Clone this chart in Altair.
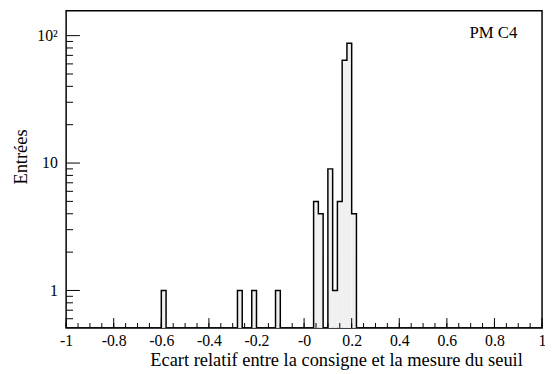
import altair as alt
import pandas as pd

# Histogram: 100 bins of width 0.02 between -1 and 1; the non-empty bins (lower edge, entries)
bin_lo = [-0.60, -0.28, -0.22, -0.12, 0.04, 0.06, 0.10, 0.12, 0.14, 0.16, 0.18, 0.20]
counts = [1, 1, 1, 1, 5, 4, 9, 1, 5, 64, 87, 4]
BIN_W = 0.02
N_BINS = 100
X_MIN, X_MAX = -1.0, 1.0
Y_MIN, Y_MAX = 0.508, 157.0

x_tick_values = [-1, -0.8, -0.6, -0.4, -0.2, 0, 0.2, 0.4, 0.6, 0.8, 1]
x_tick_labels = ["-1", "-0.8", "-0.6", "-0.4", "-0.2", "-0", "0.2", "0.4", "0.6", "0.8", "1"]
y_tick_values = [1, 10, 100]
y_tick_labels = ["1", "10", "10²"]
y_minor_values = [0.6, 0.7, 0.8, 0.9, 2, 3, 4, 5, 6, 7, 8, 9, 20, 30, 40, 50, 60, 70, 80, 90]
x_minor_values = [round(-1 + 0.05 * k, 2) for k in range(41)]

x_title = "Ecart relatif entre la consigne et la mesure du seuil"
y_title = "Entrées"
label_text = "PM C4"

W, H = 483, 322
FONT = "Liberation Serif"

# ---- data tables built from the lists ----
bars = pd.DataFrame({"lo": bin_lo, "hi": [round(v + BIN_W, 2) for v in bin_lo], "n": counts})
count_by_bin = {int(round((lo - X_MIN) / BIN_W)): c for lo, c in zip(bin_lo, counts)}
step_rows = []
for i in range(N_BINS):
    step_rows.append({"lo": round(X_MIN + i * BIN_W, 2), "n": count_by_bin.get(i, Y_MIN)})
step_rows.append({"lo": X_MAX, "n": Y_MIN})
step = pd.DataFrame(step_rows)

xs = alt.Scale(domain=[X_MIN, X_MAX], nice=False, zero=False)
ys = alt.Scale(type="log", domain=[Y_MIN, Y_MAX], nice=False)

x_label_expr = "[" + ",".join(f"'{l}'" for l in x_tick_labels) + "][round((datum.value + 1) / 0.2)]"
y_label_expr = "[" + ",".join(f"'{l}'" for l in y_tick_labels) + "][round(log(datum.value) / log(10))]"

x_axis = alt.Axis(
    values=x_tick_values, labelExpr=x_label_expr, ticks=False, domain=False, grid=False,
    title=x_title, titleX=463, titleAlign="right", titleY=38, titleBaseline="alphabetic",
    labelPadding=5, labelFlush=False)
y_axis = alt.Axis(
    values=y_tick_values, labelExpr=y_label_expr, ticks=False, domain=False, grid=False,
    title=y_title, titleAngle=270, titleX=-46, titleY=148, titleAlign="center", titleBaseline="middle",
    labelPadding=9)

X = alt.X("lo:Q", scale=xs, axis=x_axis)
Y = alt.Y("n:Q", scale=ys, axis=y_axis)

fill = alt.Chart(bars).mark_rect(color="#f0f0f0").encode(
    x=X, x2="hi:Q", y=Y, y2=alt.Y2(datum=Y_MIN),
)

outline = alt.Chart(step).mark_line(interpolate="step-after", color="black", strokeWidth=1.5, clip=True).encode(
    x=X, y=Y,
)

def xticks(vals, length):
    return alt.Chart(pd.DataFrame({"lo": vals})).mark_rule(color="black", strokeWidth=1).encode(
        x=X, y=alt.value(H), y2=alt.value(H - length))

def yticks(vals, length):
    return alt.Chart(pd.DataFrame({"n": vals})).mark_rule(color="black", strokeWidth=1).encode(
        y=Y, x=alt.value(0), x2=alt.value(length))

label = alt.Chart(pd.DataFrame({"t": [label_text]})).mark_text(
    font=FONT, fontSize=17, align="right", baseline="middle", color="black"
).encode(text="t:N", x=alt.value(458), y=alt.value(23))

chart = alt.layer(
    fill, outline,
    xticks(x_minor_values, 5), xticks(x_tick_values, 10),
    yticks(y_minor_values, 7), yticks(y_tick_values, 14),
    label,
).properties(
    width=W, height=H,
    autosize=alt.AutoSizeParams(type="none"),
    padding={"left": 59, "top": 0, "right": 3, "bottom": 42},
    background="white",
).configure(font=FONT).configure_axis(
    labelFont=FONT, titleFont=FONT, labelFontSize=16, titleFontSize=18.7,
    labelColor="black", titleColor="black", titleFontWeight="normal",
).configure_view(stroke="black", strokeWidth=1.5)

chart.save("out.html", embed_options={"renderer": "svg", "actions": False})
